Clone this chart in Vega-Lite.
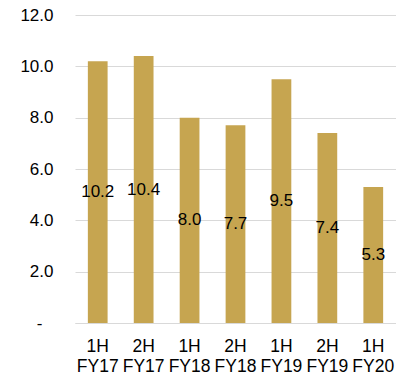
{
  "$schema": "https://vega.github.io/schema/vega-lite/v6.json",
  "width": 321,
  "height": 308,
  "autosize": {"type": "none"},
  "padding": {"left": 75, "top": 15, "right": 0, "bottom": 56},
  "background": "white",
  "config": {"view": {"stroke": null}, "font": "Liberation Sans"},
  "data": {"values": [
    {"period": "1H FY17", "value": 10.2},
    {"period": "2H FY17", "value": 10.4},
    {"period": "1H FY18", "value": 8.0},
    {"period": "2H FY18", "value": 7.7},
    {"period": "1H FY19", "value": 9.5},
    {"period": "2H FY19", "value": 7.4},
    {"period": "1H FY20", "value": 5.3}
  ]},
  "encoding": {
    "x": {"field": "period", "type": "nominal", "sort": null,
      "scale": {"paddingInner": 0.57, "paddingOuter": 0.28},
      "axis": {"title": null, "labelAngle": 0, "labelExpr": "split(datum.label, ' ')", "labelFontSize": 17.5, "labelColor": "#000000", "labelLineHeight": 20, "labelPadding": 14, "ticks": false, "domain": true, "domainColor": "#d9d9d9", "grid": false}}
  },
  "layer": [
    {"mark": {"type": "bar", "color": "#C6A550"},
      "encoding": {"y": {"field": "value", "type": "quantitative",
        "scale": {"domain": [0, 12]},
        "axis": {"title": null, "values": [0, 2, 4, 6, 8, 10, 12], "labelExpr": "datum.value == 0 ? '-' : format(datum.value, '.1f')", "labelFontSize": 17, "labelColor": "#000000", "labelPadding": {"condition": {"test": "datum.value == 0", "value": 33}, "value": 22}, "ticks": false, "domain": false, "gridColor": "#d9d9d9", "gridWidth": 1}}}},
    {"mark": {"type": "text", "fontSize": 17, "color": "#000000", "baseline": "middle", "align": "center"},
      "encoding": {"y": {"field": "value", "type": "quantitative", "scale": {"domain": [0, 24]}, "axis": null},
        "text": {"field": "value", "type": "quantitative", "format": ".1f"}}}
  ],
  "resolve": {"scale": {"y": "independent"}}
}
